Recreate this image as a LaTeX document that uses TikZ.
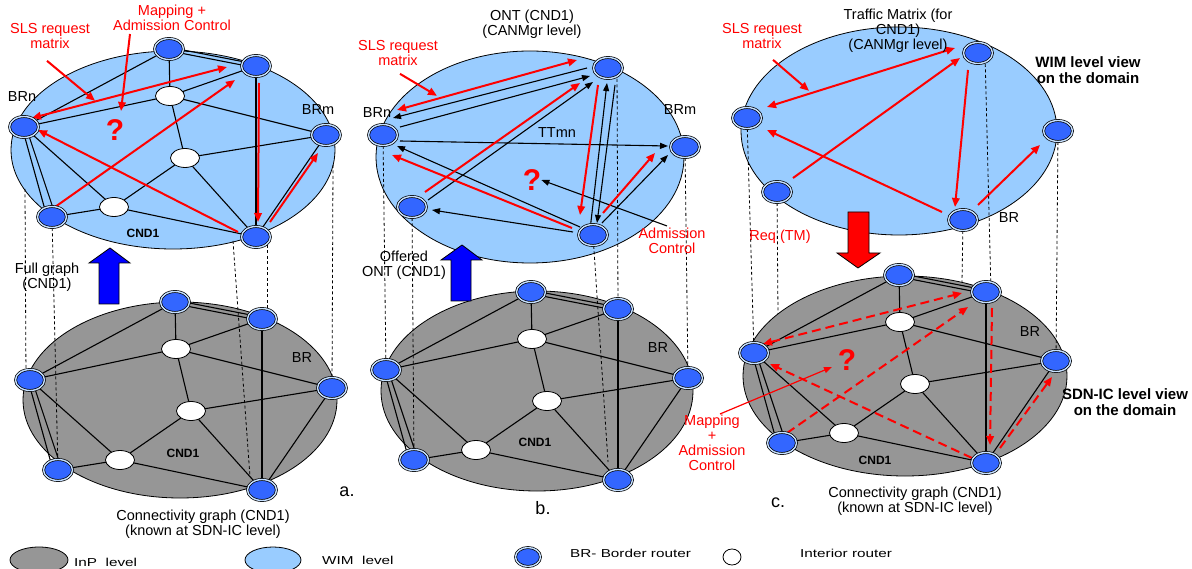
\documentclass[tikz,border=0pt]{standalone}
\usepackage{fontspec}
\setmainfont{Liberation Sans}
\usetikzlibrary{shapes.geometric,arrows.meta,calc}
\pgfdeclarelayer{bg}
\pgfdeclarelayer{edges}
\pgfsetlayers{bg,edges,main}
\definecolor{wimblue}{HTML}{99CCFF}
\definecolor{inpgray}{HTML}{969696}
\definecolor{brblue}{HTML}{3366FF}
\definecolor{ringc}{HTML}{C6E0FF}
\definecolor{arrblue}{HTML}{0000FF}
\tikzset{
 lbl/.style={font=\fontsize{14.5}{15}\selectfont, align=center, inner sep=0pt},
 rlbl/.style={lbl, text=red},
 cndlbl/.style={font=\fontsize{12}{12}\selectfont\bfseries, inner sep=0pt},
 qmark/.style={font=\fontsize{30}{30}\selectfont\bfseries, text=red, inner sep=0pt},
 panlbl/.style={font=\fontsize{18}{18}\selectfont, inner sep=0pt},
 viewlbl/.style={font=\fontsize{15}{16}\selectfont\bfseries, align=center, inner sep=0pt},
 leglbl/.style={font=\fontsize{11.5}{11.5}\selectfont, inner sep=0pt, anchor=west},
 graphedge/.style={draw=black, line width=1.1pt},
 ra/.style={draw=red, line width=2pt, -{Triangle[length=9pt,width=7.5pt]}},
 rb/.style={ra, {Triangle[length=9pt,width=7.5pt]}-{Triangle[length=9pt,width=7.5pt]}},
 rd/.style={ra, dash pattern=on 9pt off 5pt},
 rdb/.style={rb, dash pattern=on 9pt off 5pt},
 ba/.style={draw=black, line width=1.1pt, -{Triangle[length=8pt,width=6pt]}},
 guide/.style={draw=black, line width=0.8pt, dash pattern=on 3pt off 2.5pt},
 bigell/.style={draw=black, line width=0.8pt},
 brn/.style={ellipse, draw=black, line width=0.7pt, double=ringc, double distance=1.4pt, fill=brblue, minimum width=29pt, minimum height=21pt, inner sep=0pt},
 irn/.style={ellipse, draw=black, line width=0.8pt, fill=white, minimum width=29pt, minimum height=19pt, inner sep=0pt},
 bigarrow/.style={draw=black, line width=0.8pt},
}
\newcommand\linkit[5]{\draw[#1] ([shift={(#3)}]#2.center) -- ([shift={(#5)}]#4.center);}
\newcommand\drawfullgraph[3]{%
 \begin{scope}[shift={(#2,#3)}]
  \node[brn] (#1T) at (175,302) {};
  \node[brn] (#1TR) at (262,319) {};
  \node[brn] (#1L) at (30,380) {};
  \node[brn] (#1R) at (332,388) {};
  \node[brn] (#1BL) at (58,470) {};
  \node[brn] (#1BR) at (262,490) {};
  \node[irn] (#1I1) at (176,349) {};
  \node[irn] (#1I2) at (191,411) {};
  \node[irn] (#1I3) at (120,460) {};
 \end{scope}
 \begin{pgfonlayer}{edges}
  \foreach \p/\q in {T/L,T/I1,TR/I1,TR/BR,L/I1,I1/R,I1/I2,I2/R,I2/I3,I2/BR,L/I3,BL/I3,I3/BR,R/BR}
    {\draw[graphedge] (#1\p.center) -- (#1\q.center);}
  \linkit{graphedge}{#1T}{0,-1.8}{#1TR}{0,-1.8}
  \linkit{graphedge}{#1T}{0,1.8}{#1TR}{0,1.8}
  \linkit{graphedge}{#1L}{-2,0}{#1BL}{-5,0}
  \linkit{graphedge}{#1L}{2,0}{#1BL}{4,0}
 \end{pgfonlayer}
}
\begin{document}
\begin{tikzpicture}[x=1pt,y=-1pt]
\useasboundingbox (0,0) rectangle (1192,569);

% ---------- big ellipses ----------
\begin{pgfonlayer}{bg}
 \draw[bigell, fill=wimblue] (173,150) ellipse [x radius=162pt, y radius=99pt];
 \draw[bigell, fill=inpgray] (180,400) ellipse [x radius=157pt, y radius=98pt];
 \draw[bigell, fill=wimblue] (530,157) ellipse [x radius=154pt, y radius=106pt];
 \draw[bigell, fill=inpgray] (537,391) ellipse [x radius=156pt, y radius=100pt];
 \draw[bigell, fill=wimblue] (899,131) ellipse [x radius=158pt, y radius=104pt];
 \draw[bigell, fill=inpgray] (905,376) ellipse [x radius=162pt, y radius=100pt];
 % legend
 \draw[bigell, fill=inpgray] (39,560) ellipse [x radius=29pt, y radius=13pt];
 \draw[bigell, fill=wimblue] (273,560) ellipse [x radius=28pt, y radius=13pt];
\end{pgfonlayer}

% ---------- graphs ----------
\drawfullgraph{aU}{-6}{-253}
\drawfullgraph{aD}{0}{0}
\drawfullgraph{bD}{356}{-10}
\drawfullgraph{cD}{724}{-27}

\node[brn] (bUTR) at (608,68) {};
\node[brn] (bUL) at (383,135) {};
\node[brn] (bUR) at (685,147) {};
\node[brn] (bUBL) at (412,207) {};
\node[brn] (bUBR) at (593,235) {};

\node[brn] (cUTR) at (978,53) {};
\node[brn] (cUL) at (747,118) {};
\node[brn] (cUR) at (1058,131) {};
\node[brn] (cUBL) at (777,192) {};
\node[brn] (cUBR) at (963,220) {};

% ---------- labels ----------
\node[rlbl] (aSLS) at (50,36) {SLS request\\matrix};
\node[rlbl] (aMap) at (172,18) {Mapping +\\Admission Control};
\node[qmark] (aQ) at (115,130) {?};
\node[lbl] at (22,97) {BRn};
\node[lbl] at (318,110) {BRm};
\node[cndlbl] at (143,233) {CND1};
\node[lbl] at (47,277) {Full graph\\(CND1)};
\node[lbl] at (302,358) {BR};
\node[cndlbl] at (183,453) {CND1};
\node[panlbl] at (347,492) {a.};
\node[lbl] at (203,524) {Connectivity graph (CND1)\\(known at SDN-IC level)};

\node[lbl] at (532,24) {ONT (CND1)\\(CANMgr level)};
\node[rlbl] (bSLS) at (398,53) {SLS request\\matrix};
\node[lbl] at (377,113) {BRn};
\node[lbl] at (680,110) {BRm};
\node[lbl] at (557,133) {TTmn};
\node[qmark] (bQ) at (532,180) {?};
\node[rlbl] (bAdm) at (672,241) {Admission\\Control};
\node[lbl] at (404,265) {Offered\\ONT (CND1)};
\node[lbl] at (658,348) {BR};
\node[cndlbl] at (535,442) {CND1};
\node[panlbl] at (543,508) {b.};

\node[rlbl] (cSLS) at (762,36) {SLS request\\matrix};
\node[lbl] at (898,31) {Traffic Matrix (for\\CND1)\\(CANMgr level)};
\node[viewlbl] at (1088,70) {WIM level view\\on the domain};
\node[lbl] at (1009,218) {BR};
\node[rlbl] at (780,237) {Req (TM)};
\node[qmark] (cQ) at (847,360) {?};
\node[lbl] at (1030,332) {BR};
\node[cndlbl] at (875,460) {CND1};
\node[panlbl] at (778,503) {c.};
\node[lbl] at (915,501) {Connectivity graph (CND1)\\(known at SDN-IC level)};
\node[viewlbl] at (1125,402) {SDN-IC level view\\on the domain};
\node[rlbl] (cMap) at (712,443) {Mapping\\+\\Admission\\Control};

% ---------- big arrows ----------
\draw[bigarrow, fill=arrblue] (99,304) -- (99,263) -- (89,263) -- (110,248) -- (130,263) -- (119,263) -- (119,304) -- cycle;
\draw[bigarrow, fill=arrblue] (451,301) -- (451,260) -- (441,260) -- (462,245) -- (482,260) -- (471,260) -- (471,301) -- cycle;
\draw[bigarrow, fill=red] (848,212) -- (848,253) -- (837,253) -- (858,268) -- (880,253) -- (869,253) -- (869,212) -- cycle;

% ---------- connectors ----------
\begin{pgfonlayer}{edges}
 % guide lines panel a
 \coordinate (ga1) at (25,189);
 \coordinate (ga2) at (233,241);
 \coordinate (ga3) at (333,165);
 \draw[guide] (ga1) -- ([shift={(-4,0)}]aDL.center);
 \draw[guide] (aUBL.center) -- (aDBL.center);
 \draw[guide] (ga2) -- ([shift={(-12,-13)}]aDBR.center);
 \draw[guide] ([shift={(11,8)}]aUBR.center) -- ([shift={(5,0)}]aDTR.center);
 \draw[guide] (ga3) -- (aDR.center);
 % guide lines panel b
 \draw[guide] (bUL.center) -- (bDL.center);
 \draw[guide] (bUBL.center) -- (bDBL.center);
 \draw[guide] (bUBR.center) -- ([shift={(-10,-18)}]bDBR.center);
 \draw[guide] ([shift={(9,0)}]bUTR.center) -- (bDTR.center);
 \draw[guide] (bUR.center) -- (bDR.center);
 % guide lines panel c
 \coordinate (gc1) at (778,314);
 \coordinate (gc2) at (962,282);
 \draw[guide] (cUL.center) -- (cDL.center);
 \draw[guide] (cUBL.center) -- (gc1);
 \draw[guide] (cUBR.center) -- (gc2);
 \draw[guide] ([shift={(7,0)}]cUTR.center) -- ([shift={(5,0)}]cDTR.center);
 \draw[guide] (cUR.center) -- (cDR.center);

 % panel a red arrows
 \linkit{rb}{aUL}{8,-9}{aUTR}{-29,1}
 \linkit{ra}{aUBL}{3,-10}{aUTR}{-21,14}
 \linkit{ra}{aUBR}{-18,-5}{aUL}{14,3}
 \linkit{ra}{aUTR}{3,17}{aUBR}{2,-15}
 \linkit{ra}{aUBR}{14,-15}{aUR}{-8,18}
 \draw[ra] ([shift={(-3,12)}]aSLS.south) -- ++(48,40);
 \draw[ra] ([shift={(-42,3)}]aMap.south) -- ++(-9,77);

 % panel b black arrows
 \linkit{ba}{bUTR}{-21,0}{bUL}{10,-17}
 \linkit{ba}{bUL}{17,-8}{bUTR}{-18,8}
 \linkit{ba}{bUBL}{16,-7}{bUTR}{-15,14}
 \linkit{ba}{bUL}{17,6}{bUR}{-17,-1}
 \linkit{ba}{bUBR}{-13,-8}{bUL}{14,11}
 \linkit{ba}{bUBR}{-20,-3}{bUBL}{20,3}
 \linkit{ba}{bUBR}{-3,-5}{bUTR}{-1,15}
 \linkit{ba}{bUTR}{7,17}{bUBR}{4,-12}
 \linkit{ba}{bUBR}{9,-12}{bUR}{-17,8}
 \draw[ba] ([shift={(-5,-2)}]bAdm.north) -- (bQ.east);
 % panel b red arrows
 \linkit{rb}{bUL}{14,-25}{bUTR}{-31,-8}
 \linkit{ra}{bUBL}{13,-15}{bUTR}{-28,15}
 \linkit{ra}{bUBR}{-21,-7}{bUL}{9,20}
 \linkit{ra}{bUTR}{-10,17}{bUBR}{-13,-20}
 \linkit{ra}{bUBR}{10,-22}{bUR}{-30,6}
 \draw[ra] ([shift={(2,8)}]bSLS.south) -- ++(37,22);

 % panel c red arrows
 \linkit{rb}{cUL}{20,-11}{cUTR}{-23,-5}
 \linkit{ra}{cUBL}{16,-14}{cUTR}{-18,5}
 \linkit{ra}{cUBR}{-21,-8}{cUL}{20,12}
 \linkit{ra}{cUTR}{-10,17}{cUBR}{-8,-13}
 \linkit{ra}{cUBR}{15,-15}{cUR}{-18,14}
 \draw[ra] ([shift={(11,11)}]cSLS.south) -- ++(36,31);
 % panel c dashed red
 \linkit{rdb}{cDL}{9,-9}{cDTR}{-24,1}
 \linkit{rd}{cDBL}{5,-10}{cDTR}{-18,15}
 \linkit{rd}{cDBR}{-14,-5}{cDL}{16,11}
 \linkit{rd}{cDTR}{6,16}{cDBR}{4,-18}
 \linkit{rd}{cDBR}{14,-15}{cDR}{-4,16}
 \draw[draw=red, line width=1.2pt, -{Triangle[length=8pt,width=6pt]}] ([shift={(8,-1)}]cMap.north) -- ([shift={(-15,7)}]cQ.center);
\end{pgfonlayer}

% ---------- legend ----------
\node[leglbl] at (74,562) {\scalebox{1.33}[1]{InP\ \ level}};
\node[leglbl] at (322,560) {\scalebox{1.33}[1]{WIM\ \ level}};
\node[brn, minimum width=25pt, minimum height=19pt] (legBR) at (528,557) {};
\node[leglbl] at (570,553) {\scalebox{1.33}[1]{BR- Border router}};
\node[irn, minimum width=18pt, minimum height=16pt] (legIR) at (732,557) {};
\node[leglbl] at (800,553) {\scalebox{1.33}[1]{Interior router}};
\end{tikzpicture}
\end{document}
